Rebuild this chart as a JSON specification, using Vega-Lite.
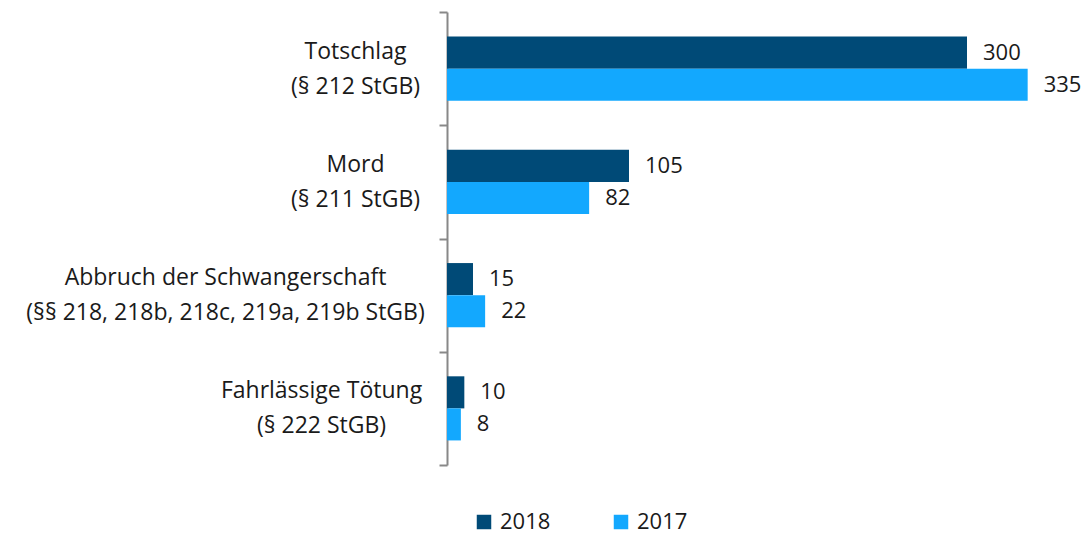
{
  "$schema": "https://vega.github.io/schema/vega-lite/v6.json",
  "width": 624,
  "height": 453,
  "autosize": {"type": "none"},
  "padding": {"left": 447, "top": 12, "right": 14, "bottom": 74},
  "config": {"view": {"stroke": null}, "font": "Open Sans"},
  "data": {"values": [
    {"cat": "Totschlag|(§ 212 StGB)", "year": "2018", "value": 300},
    {"cat": "Totschlag|(§ 212 StGB)", "year": "2017", "value": 335},
    {"cat": "Mord|(§ 211 StGB)", "year": "2018", "value": 105},
    {"cat": "Mord|(§ 211 StGB)", "year": "2017", "value": 82},
    {"cat": "Abbruch der Schwangerschaft|(§§ 218, 218b, 218c, 219a, 219b StGB)", "year": "2018", "value": 15},
    {"cat": "Abbruch der Schwangerschaft|(§§ 218, 218b, 218c, 219a, 219b StGB)", "year": "2017", "value": 22},
    {"cat": "Fahrlässige Tötung|(§ 222 StGB)", "year": "2018", "value": 10},
    {"cat": "Fahrlässige Tötung|(§ 222 StGB)", "year": "2017", "value": 8}
  ]},
  "encoding": {
    "y": {"field": "cat", "type": "nominal", "sort": null,
      "scale": {"paddingInner": 0, "paddingOuter": 0},
      "axis": {"title": null, "labelExpr": "split(datum.label, '|')", "labelAlign": "center",
        "labelPadding": 84, "labelOffset": -17.5,
        "labelFontSize": 23, "labelColor": "#1a1a1a", "labelLineHeight": 35, "labelFont": "Open Sans",
        "tickBand": "extent", "tickSize": 8, "tickColor": "#888888", "tickWidth": 2,
        "domainColor": "#888888", "domainWidth": 2, "grid": false, "labelLimit": 600,
        "encoding": {"labels": {"dx": {"value": {"expr": "indexof('' + datum.value, 'Abbruch') == 0 ? -130 : indexof('' + datum.value, 'Fahr') == 0 ? -34 : 0"}}}}}},
    "yOffset": {"field": "year", "type": "nominal", "sort": ["2018", "2017"],
      "scale": {"paddingInner": 0, "paddingOuter": 0.766}},
    "x": {"field": "value", "type": "quantitative", "scale": {"domain": [0, 360], "nice": false}, "axis": null}
  },
  "layer": [
    {"mark": {"type": "bar"},
     "encoding": {"color": {"field": "year", "type": "nominal",
       "scale": {"domain": ["2018", "2017"], "range": ["#004a77", "#13a8fe"]},
       "legend": {"title": null, "orient": "none", "direction": "horizontal", "legendX": 26, "legendY": 499,
         "symbolType": "square", "symbolSize": 210, "symbolStrokeWidth": 0, "labelFontSize": 22, "labelColor": "#1a1a1a",
         "labelFont": "Open Sans", "columnPadding": 59, "labelOffset": 5}}}},
    {"mark": {"type": "text", "align": "left", "dx": 16, "fontSize": 22, "color": "#1a1a1a", "font": "Open Sans"},
     "encoding": {"text": {"field": "value", "type": "quantitative"}}}
  ]
}
